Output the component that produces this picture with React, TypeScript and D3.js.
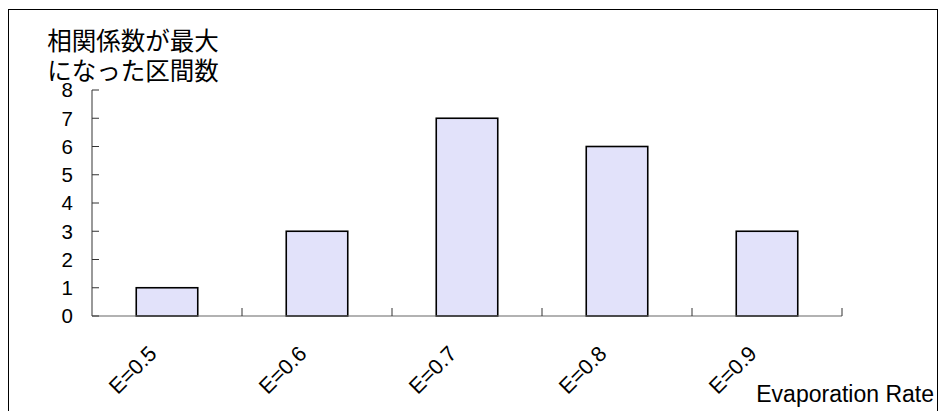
import React from "react";
import * as d3 from "d3";

const categories = ["E=0.5", "E=0.6", "E=0.7", "E=0.8", "E=0.9"];
const values = [1, 3, 7, 6, 3];
const yTicks = [0, 1, 2, 3, 4, 5, 6, 7, 8];
const titleLines = ["相関係数が最大", "になった区間数"];
const xTitle = "Evaporation Rate";

export default function App() {
  const W = 942, H = 411;
  const left = 92, right = 842, top = 90, bottom = 316;
  const x = d3.scaleBand<string>().domain(categories).range([left, right]).paddingInner(0).paddingOuter(0);
  const y = d3.scaleLinear().domain([0, 8]).range([bottom, top]);
  const bw = x.bandwidth() * 0.41;
  const boundaries = categories.map((c) => (x(c) as number) + x.bandwidth());
  const font = "'Liberation Sans', Arial, sans-serif";
  return (
    <svg width={W} height={H} style={{ position: "absolute", left: 0, top: 0, background: "#fff" }}>
      <rect x={8.5} y={9.5} width={929} height={410} fill="#fff" stroke="#000" strokeWidth={1} />
      {titleLines.map((t, i) => (
        <text key={i} x={133} y={50 + i * 30} textAnchor="middle" fontSize={24.5} fontFamily="'Noto Sans CJK JP', sans-serif" fill="#000">{t}</text>
      ))}
      {values.map((v, i) => {
        const c = categories[i];
        const cx = (x(c) as number) + x.bandwidth() / 2;
        return (
          <rect key={c} x={cx - bw / 2} y={y(v)} width={bw} height={y(0) - y(v)} fill="#E2E2FA" stroke="#000" strokeWidth={1.6} />
        );
      })}
      {/* x axis */}
      <line x1={left} x2={right} y1={bottom} y2={bottom} stroke="#666" strokeWidth={1.2} />
      {boundaries.map((b, i) => (
        <line key={i} x1={b} x2={b} y1={bottom} y2={bottom - 8} stroke="#333" strokeWidth={1} />
      ))}
      {/* y axis */}
      <line x1={left} x2={left} y1={top} y2={bottom} stroke="#555" strokeWidth={1.2} />
      {yTicks.map((t) => (
        <g key={t}>
          <line x1={left} x2={left + 7} y1={y(t)} y2={y(t)} stroke="#333" strokeWidth={1} />
          <text x={73} y={y(t)} dy="0.36em" textAnchor="end" fontSize={20.5} fontFamily={font} fill="#000">{t}</text>
        </g>
      ))}
      {categories.map((c) => {
        const cx = (x(c) as number) + x.bandwidth() / 2;
        const ax = cx - 9, ay = 355;
        return (
          <text key={c} x={ax} y={ay} transform={`rotate(-45, ${ax}, ${ay})`} textAnchor="end" fontSize={21.5} fontFamily={font} fill="#000">{c}</text>
        );
      })}
      <text x={934} y={402} textAnchor="end" fontSize={23} fontFamily={font} fill="#000">{xTitle}</text>
    </svg>
  );
}
